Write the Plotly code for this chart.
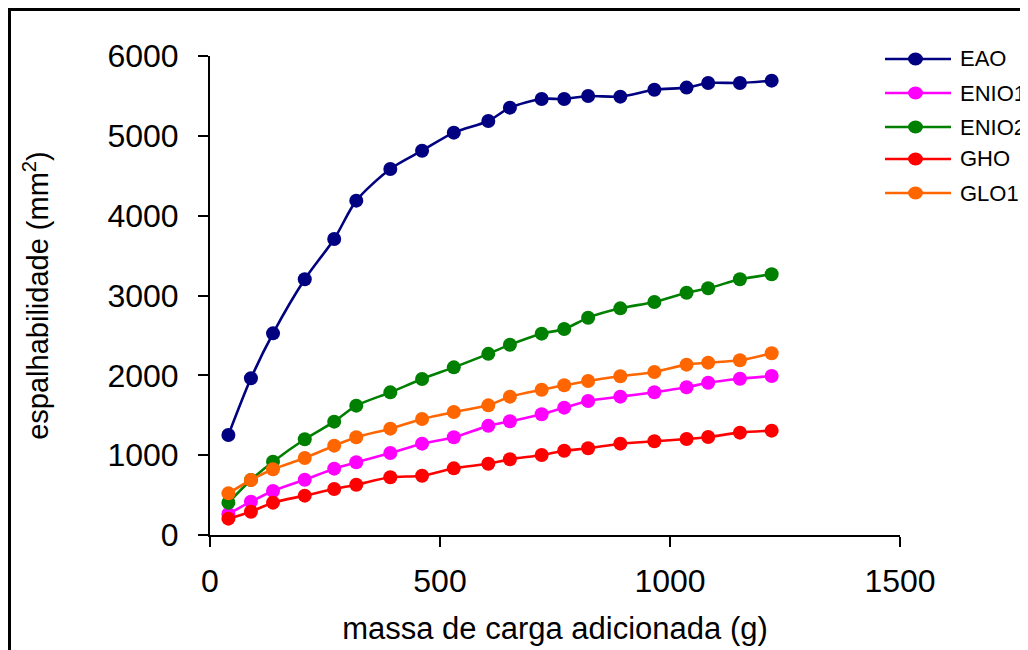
import plotly.graph_objects as go

mass = [40, 89, 137, 206, 270, 318, 392, 461, 530, 605, 652, 721, 770, 822, 892, 966, 1036, 1083, 1152, 1221]

series_names = ["EAO", "ENIO1", "ENIO2", "GHO", "GLO1"]
eao = [1253, 1963, 2526, 3203, 3708, 4188, 4585, 4814, 5040, 5186, 5353, 5462, 5462, 5499, 5491, 5578, 5604, 5662, 5662, 5691]
enio1 = [263, 417, 551, 693, 831, 911, 1027, 1144, 1224, 1367, 1424, 1512, 1595, 1679, 1733, 1788, 1850, 1908, 1958, 1992]
enio2 = [405, 690, 918, 1199, 1420, 1620, 1787, 1954, 2100, 2269, 2384, 2522, 2580, 2722, 2839, 2919, 3035, 3090, 3203, 3266]
gho = [205, 292, 405, 493, 576, 630, 723, 743, 835, 893, 948, 1002, 1056, 1086, 1144, 1174, 1203, 1228, 1282, 1307]
glo1 = [522, 689, 823, 965, 1119, 1224, 1332, 1453, 1541, 1624, 1733, 1820, 1875, 1929, 1988, 2042, 2134, 2159, 2188, 2276]
values = [eao, enio1, enio2, gho, glo1]
colors = ["#000080", "#FF00FF", "#008000", "#FF0000", "#FF6600"]

x_ticks = [0, 500, 1000, 1500]
y_ticks = [0, 1000, 2000, 3000, 4000, 5000, 6000]

W, H = 1028, 650
OFF = 8  # page body margin
ML, MR, MT, MB = 202, 136, 48, 123
PW, PH = W - ML - MR, H - MT - MB

def px(xs):
    return (xs - OFF - ML) / PW

def py(ys):
    return (H - MB - (ys - OFF)) / PH

fig = go.Figure()
for name, ys, c in zip(series_names, values, colors):
    fig.add_trace(go.Scatter(
        x=mass, y=ys, name=name, mode="lines+markers",
        line=dict(color=c, width=2.6, shape="spline", smoothing=0.8),
        marker=dict(color=c, size=14),
        showlegend=False,
    ))

# custom legend (long line samples like the original)
shapes = []
annotations = []
leg_y = [59, 93, 127, 159, 193]
for name, c, yy in zip(series_names, colors, leg_y):
    shapes.append(dict(type="line", xref="paper", yref="paper",
                       x0=px(885), x1=px(951), y0=py(yy), y1=py(yy),
                       line=dict(color=c, width=2.6)))
    shapes.append(dict(type="circle", xref="paper", yref="paper",
                       x0=px(908), x1=px(923), y0=py(yy + 6.5), y1=py(yy - 6.5),
                       fillcolor=c, line=dict(color=c, width=0)))
    annotations.append(dict(xref="paper", yref="paper", x=px(958), y=py(yy),
                            text=name, showarrow=False, xanchor="left", yanchor="middle",
                            font=dict(family="Liberation Sans, Arial", size=22, color="black")))

# outer border (top/left edges visible, right/bottom run off the page)
shapes.append(dict(type="rect", xref="paper", yref="paper",
                   x0=px(OFF + 1.5), x1=px(1080), y0=py(700), y1=py(OFF + 1.5),
                   line=dict(color="black", width=3), fillcolor="rgba(0,0,0,0)", layer="below"))

fig.update_layout(
    width=W, height=H,
    margin=dict(l=ML, r=MR, t=MT, b=MB),
    paper_bgcolor="white", plot_bgcolor="white",
    font=dict(family="Liberation Sans, Arial", color="black"),
    shapes=shapes, annotations=annotations,
    xaxis=dict(
        range=[0, 1500], tickvals=x_ticks, ticktext=[str(v) for v in x_ticks],
        showgrid=False, zeroline=False, showline=True, linecolor="black", linewidth=2,
        ticks="outside", ticklen=10, tickwidth=2, tickcolor="black",
        ticklabelstandoff=7, tickfont=dict(size=32),
        title=dict(text="massa de carga adicionada (g)", font=dict(size=31), standoff=19),
    ),
    yaxis=dict(
        range=[0, 6000], tickvals=y_ticks, ticktext=[str(v) for v in y_ticks],
        showgrid=False, zeroline=False, showline=True, linecolor="black", linewidth=2,
        ticks="outside", ticklen=10, tickwidth=2, tickcolor="black",
        ticklabelstandoff=13, tickfont=dict(size=32),
        title=dict(text="espalhabilidade (mm<sup>2</sup>)", font=dict(size=29), standoff=50),
    ),
)

fig.write_html("out.html")
